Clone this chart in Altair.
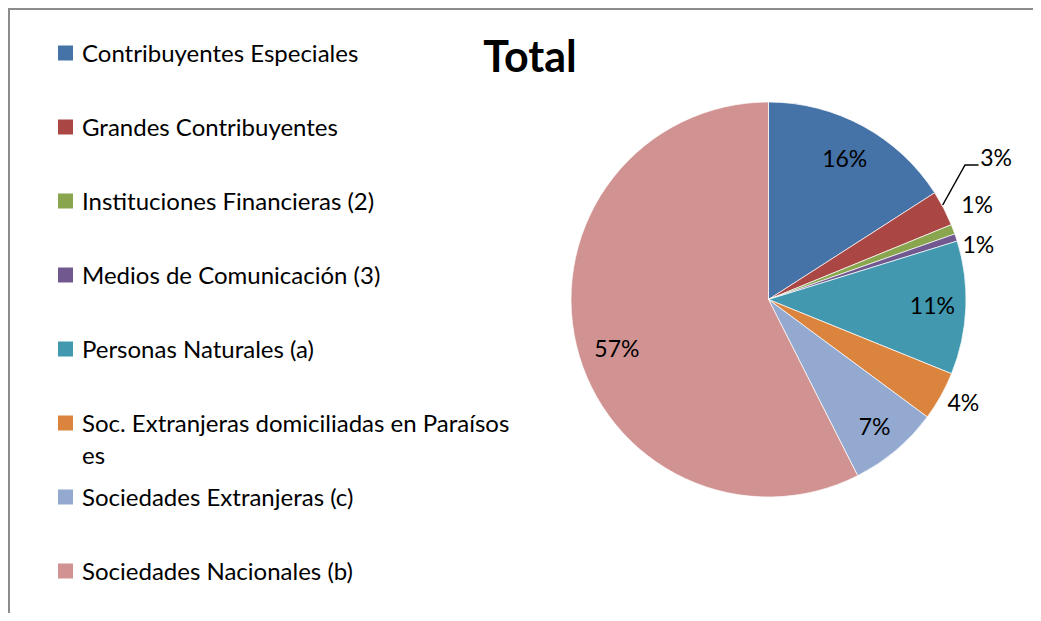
import math
import altair as alt
import pandas as pd

categories = [
    "Contribuyentes Especiales",
    "Grandes Contribuyentes",
    "Instituciones Financieras (2)",
    "Medios de Comunicación (3)",
    "Personas Naturales (a)",
    "Soc. Extranjeras domiciliadas en Paraísos es",
    "Sociedades Extranjeras (c)",
    "Sociedades Nacionales (b)",
]
legend_labels = [
    "Contribuyentes Especiales",
    "Grandes Contribuyentes",
    "Instituciones Financieras (2)",
    "Medios de Comunicación (3)",
    "Personas Naturales (a)",
    "Soc. Extranjeras domiciliadas en Paraísos\nes",
    "Sociedades Extranjeras (c)",
    "Sociedades Nacionales (b)",
]
values = [15.9, 2.9, 0.8, 0.6, 10.9, 4.0, 7.4, 57.4]
colors = ["#4572A7", "#AA4643", "#89A54E", "#71588F", "#4198AF", "#DB843D", "#93A9CF", "#D19392"]
title_text = ["Total"]

total = sum(values)
df = pd.DataFrame({
    "cat": categories,
    "label": legend_labels,
    "value": values,
    "idx": list(range(len(values))),
    "pct": [f"{round(v / total * 100)}%" for v in values],
})

FONT = "Lato"
W, H = 1025, 605
CX, CY, R = 760.5, 291.5, 197.5

theta_scale = alt.Scale(domain=[0, total])
color_enc = alt.Color("cat:N", scale=alt.Scale(domain=categories, range=colors), legend=None)

base = alt.Chart(df)

pie = base.mark_arc(radius=R, stroke="#ffffff", strokeWidth=0.7).encode(
    theta=alt.Theta("value:Q", stack=True, scale=theta_scale),
    color=color_enc,
    order=alt.Order("idx:Q", sort="ascending"),
    x=alt.value(CX),
    y=alt.value(CY),
)

# label placement style per slice: (radius, dx, dy)
label_style = [
    (159, 0, 0),
    (230, 23.5, -34),
    (222, 1, -15),
    (222, -1, 16),
    (164, 0, 1),
    (221, 2, -4),
    (166, -1, 2),
    (160, 4, 13),
]

label_layers = []
for i, (r, dx, dy) in enumerate(label_style):
    lyr = (
        base.transform_window(cum="sum(value)", sort=[alt.SortField("idx")], frame=[None, 0])
        .transform_calculate(mid="datum.cum - datum.value / 2")
        .transform_filter(f"datum.idx == {i}")
        .mark_text(radius=r, dx=dx, dy=dy, font=FONT, fontSize=23, color="#000000",
                   align="center", baseline="middle")
        .encode(
            theta=alt.Theta("mid:Q", stack=False, scale=theta_scale),
            text="pct:N",
            x=alt.value(CX),
            y=alt.value(CY),
        )
    )
    label_layers.append(lyr)

one = pd.DataFrame({"k": [0]})
leader1 = alt.Chart(one).mark_rule(color="#000000", strokeWidth=1.5).encode(
    x=alt.value(934.7), y=alt.value(197), x2=alt.value(957), y2=alt.value(157))
leader2 = alt.Chart(one).mark_rule(color="#000000", strokeWidth=1.5).encode(
    x=alt.value(956.5), y=alt.value(157), x2=alt.value(970.5), y2=alt.value(157))

y_enc = alt.Y("cat:N", sort=categories,
              scale=alt.Scale(type="point", range=[45, 563], padding=0), axis=None)

leg_sq = base.mark_square(size=225, opacity=1).encode(
    x=alt.value(57.5), y=y_enc, color=color_enc)
leg_txt = base.mark_text(align="left", baseline="alphabetic", dy=9, lineBreak="\n",
                         lineHeight=32, font=FONT, fontSize=24, color="#000000").encode(
    x=alt.value(74), y=y_enc, text="label:N")

title = alt.Chart(pd.DataFrame({"t": title_text})).mark_text(
    font=FONT, fontSize=43, fontWeight="bold", align="center", baseline="alphabetic",
    color="#000000").encode(text="t:N", x=alt.value(522), y=alt.value(64))

top_border = alt.Chart(one).mark_rule(color="#8c8c8c", strokeWidth=2).encode(
    x=alt.value(0), x2=alt.value(W), y=alt.value(1))
left_border = alt.Chart(one).mark_rule(color="#8c8c8c", strokeWidth=2).encode(
    x=alt.value(1), y=alt.value(0), y2=alt.value(H))

chart = alt.layer(
    top_border, left_border, pie, *label_layers, leader1, leader2, leg_sq, leg_txt, title
).properties(
    width=W, height=H, padding=0,
    autosize=alt.AutoSizeParams(type="none"),
).configure_view(stroke=None).configure(background="#ffffff")

chart.save("out.html", embed_options={"renderer": "svg", "actions": False})
